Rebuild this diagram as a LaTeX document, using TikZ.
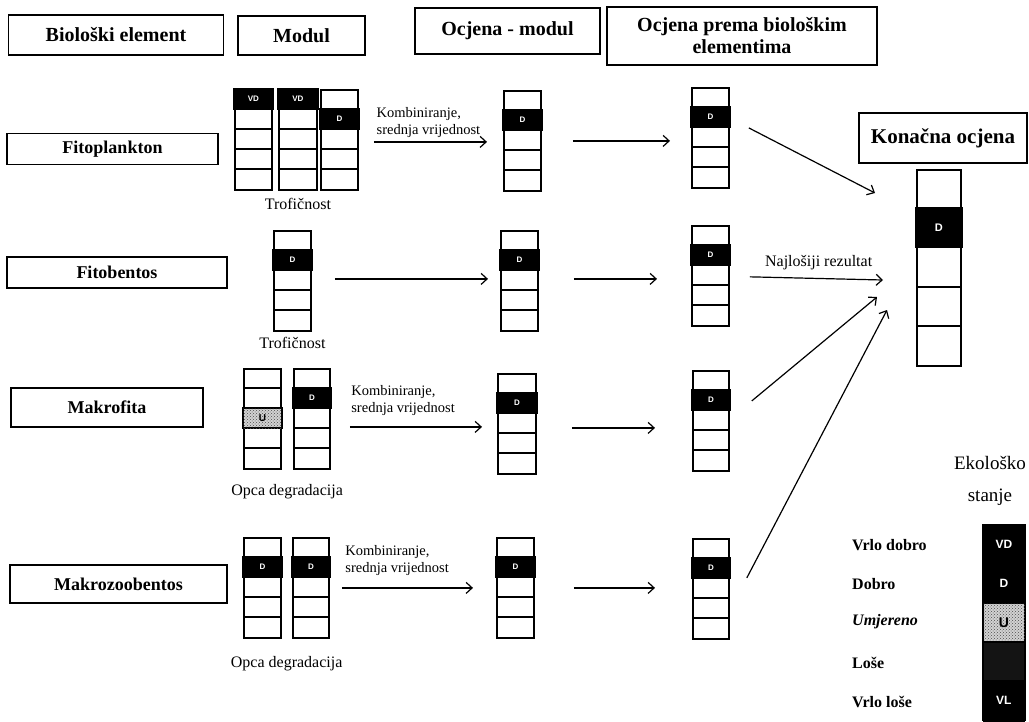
\documentclass[tikz,border=0pt]{standalone}
\usepackage{fontspec}
\setmainfont{Liberation Serif}
\setsansfont{Liberation Sans}
\usetikzlibrary{positioning,calc,patterns,arrows.meta}

% stupac s pet celija: ime, x, y, sirina, visina celije
\newcommand{\stupac}[5]{%
  \node[stupac, minimum width=#4pt, minimum height={5*#5pt}] (#1) at (#2,-#3) {};
  \foreach \k in {1,...,4}
    \draw[pregrada] ([yshift={-\k*#5pt}]#1.north west) -- ([yshift={-\k*#5pt}]#1.north east);
}
% ispunjena celija: stupac, redni broj, visina celije, stil, oznaka
\newcommand{\celija}[5]{%
  \draw[pregrada, #4] ([yshift={-(#2-1)*#3pt}]#1.north west) rectangle ([yshift={-#2*#3pt}]#1.north east);
  \node[oznaka] at ([yshift={-(#2-0.5)*#3pt}]#1.north) {#5};
}

\begin{document}
\begin{tikzpicture}[x=1pt, y=1pt, node distance=6pt,
    naslov/.style={draw, line width=1.3pt, inner sep=0pt, align=center, font=\bfseries\fontsize{20}{22}\selectfont},
    element/.style={draw, line width=1.3pt, inner sep=0pt, font=\bfseries\fontsize{18}{21}\selectfont},
    stupac/.style={draw, line width=1.8pt, inner sep=0pt, anchor=north west},
    pregrada/.style={line width=1.8pt},
    tamno/.style={fill=black},
    umjereno/.style={fill=gray!35, postaction={pattern=crosshatch dots, pattern color=black!70}},
    oznaka/.style={text=white, inner sep=0pt, font=\sffamily\bfseries\fontsize{8}{8}\selectfont},
    opis/.style={inner sep=0pt, align=left, font=\fontsize{14.5}{17}\selectfont},
    potpis/.style={inner sep=0pt, font=\fontsize{16}{18}\selectfont},
    legenda/.style={anchor=west, inner sep=0pt, font=\bfseries\fontsize{16}{18}\selectfont},
    strelica/.style={-{Straight Barb[length=6pt, width=11pt]}, line width=1.2pt}]
\useasboundingbox (0,0) rectangle (1029,-721);

% naslovi
\node[naslov, minimum width=215pt, minimum height=40pt] (bio) at (116,-35) {Biološki element};
\node[naslov, minimum width=127pt, minimum height=39pt] (mod) at (301.5,-35.5) {Modul};
\node[naslov, minimum width=185pt, minimum height=46pt] (om) at (507.5,-31) {Ocjena - modul};
\node[naslov, minimum width=270pt, minimum height=58pt] (opb) at (742,-36) {Ocjena prema biološkim\\elementima};
\node[naslov, minimum width=168pt, minimum height=50pt, font=\bfseries\fontsize{21}{23}\selectfont] (kon) at (943,-138) {Konačna ocjena};

% bioloski elementi
\node[element, minimum width=211pt, minimum height=31pt] (fp) at (112.5,-149) {Fitoplankton};
\node[element, minimum width=220pt, minimum height=31pt] (fb) at (117,-272.5) {Fitobentos};
\node[element, minimum width=192pt, minimum height=39pt] (mf) at (107,-407.5) {Makrofita};
\node[element, minimum width=217pt, minimum height=38pt] (mz) at (118.5,-584) {Makrozoobentos};

% fitoplankton
\stupac{m11}{234}{89}{37}{20} \celija{m11}{1}{20}{tamno}{VD}
\stupac{m12}{278}{89}{38}{20} \celija{m12}{1}{20}{tamno}{VD}
\stupac{m13}{320}{89}{37}{20} \celija{m13}{2}{20}{tamno}{D}
\stupac{om1}{503}{90}{37}{20} \celija{om1}{2}{20}{tamno}{D}
\stupac{op1}{691}{87}{37}{20} \celija{op1}{2}{20}{tamno}{D}
\node[potpis] (tr1) [below=7pt of m12] {Trofičnost};

% fitobentos
\stupac{m21}{273}{230}{37}{20} \celija{m21}{2}{20}{tamno}{D}
\stupac{om2}{500}{230}{37}{20} \celija{om2}{2}{20}{tamno}{D}
\stupac{op2}{691}{225}{37}{20} \celija{op2}{2}{20}{tamno}{D}
\node[potpis] (tr2) [below=5pt of m21] {Trofičnost};

% makrofita
\stupac{m31}{243}{368}{37}{20} \celija{m31}{3}{20}{umjereno}{\color{black}\fontsize{10}{10}\selectfont U}
\stupac{m32}{293}{368}{36}{20} \celija{m32}{2}{20}{tamno}{D}
\stupac{om3}{497}{373}{38}{20} \celija{om3}{2}{20}{tamno}{D}
\stupac{op3}{692}{370}{36}{20} \celija{op3}{2}{20}{tamno}{D}
\node[potpis, anchor=north] (od3) at ($(m31.south)!.5!(m32.south)+(0,-14)$) {Opca degradacija};

% makrozoobentos
\stupac{m41}{243}{537}{37}{20} \celija{m41}{2}{20}{tamno}{D}
\stupac{m42}{292}{537}{36}{20} \celija{m42}{2}{20}{tamno}{D}
\stupac{om4}{496}{537}{37}{20} \celija{om4}{2}{20}{tamno}{D}
\stupac{op4}{692}{538}{36}{20} \celija{op4}{2}{20}{tamno}{D}
\node[potpis, anchor=north] (od4) at ($(m41.south)!.5!(m42.south)+(0,-17)$) {Opca degradacija};

% konacna ocjena
\stupac{ko}{916}{169}{44}{39.2} \celija{ko}{2}{39.2}{tamno}{\fontsize{11}{11}\selectfont D}
\coordinate (k1) at (875,-193);
\coordinate (k2) at (883,-280);
\coordinate (k3) at (877,-297);
\coordinate (k4) at (887,-310);

% strelice
\draw[strelica, shorten <=15pt, shorten >=16pt] ([yshift=-2pt]m13.east) -- node[opis, pos=.12, anchor=south west, yshift=4pt] {Kombiniranje,\\srednja vrijednost} ([yshift=-2pt]m13.east -| om1.west);
\draw[strelica, shorten <=31pt, shorten >=21pt] (om1.east) -- (om1.east -| op1.west);
\draw[strelica, shorten <=23pt, shorten >=12pt] ([yshift=2pt]m21.east) -- ([yshift=2pt]m21.east -| om2.west);
\draw[strelica, shorten <=35pt, shorten >=34pt] ([yshift=2pt]om2.east) -- ([yshift=2pt]om2.east -| op2.west);
\draw[strelica, shorten <=19pt, shorten >=15pt] ([yshift=-8pt]m32.east) -- node[opis, pos=.12, anchor=south west, yshift=11pt] {Kombiniranje,\\srednja vrijednost} ([yshift=-8pt]m32.east -| om3.west);
\draw[strelica, shorten <=35pt, shorten >=37pt] ([yshift=-4pt]om3.east) -- ([yshift=-4pt]om3.east -| op3.west);
\draw[strelica, shorten <=12pt, shorten >=23pt] (m42.east) -- node[opis, pos=.09, anchor=south west, yshift=12pt] {Kombiniranje,\\srednja vrijednost} (m42.east -| om4.west);
\draw[strelica, shorten <=39pt, shorten >=37pt] (om4.east) -- (om4.east -| op4.west);

\draw[strelica] ([shift={(19,10)}]op1.east) -- (k1);
\draw[strelica, shorten <=20pt] (op2) -- node[opis, pos=.58, above=8pt, font=\fontsize{16}{18}\selectfont] {Najlošiji rezultat} (k2);
\draw[strelica] ([shift={(22,20)}]op3.east) -- (k3);
\draw[strelica] ([shift={(17,11)}]op4.east) -- (k4);

% legenda
\node[align=center, inner sep=0pt, font=\fontsize{19}{32}\selectfont] (eko) at (990,-481) {Ekološko\\stanje};
\stupac{leg}{983}{525}{40}{39}
\celija{leg}{1}{39}{tamno}{\fontsize{12}{12}\selectfont VD}
\celija{leg}{2}{39}{tamno}{\fontsize{12}{12}\selectfont D}
\celija{leg}{3}{39}{umjereno}{\color{black}\fontsize{14}{14}\selectfont U}
\celija{leg}{4}{39}{fill=black!92}{}
\celija{leg}{5}{39}{tamno}{\fontsize{12}{12}\selectfont VL}
\node[legenda] (vd) at (852,-545) {Vrlo dobro};
\node[legenda] (d) at (852,-584) {Dobro};
\node[legenda, font=\bfseries\itshape\fontsize{16}{18}\selectfont] (u) at (852,-622) {Umjereno};
\node[legenda] (l) at (852,-663) {Loše};
\node[legenda] (vl) at (852,-702) {Vrlo loše};
\end{tikzpicture}
\end{document}
